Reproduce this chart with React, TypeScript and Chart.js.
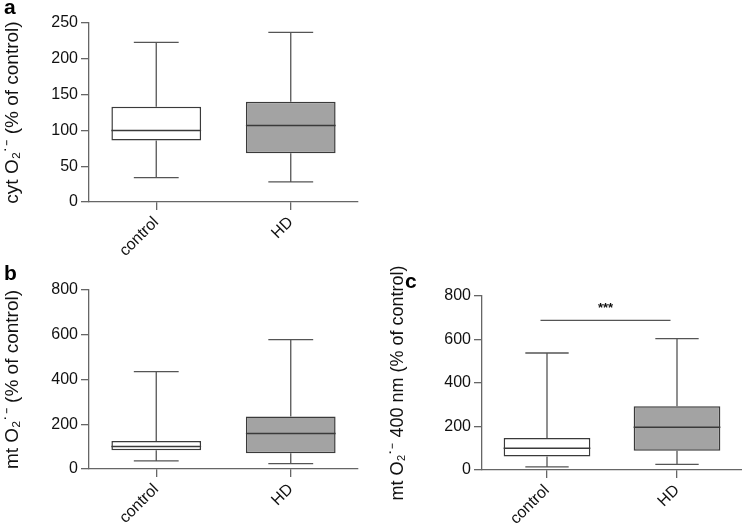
import React, { useEffect, useRef } from 'react';
import { Chart, registerables } from 'chart.js';

Chart.register(...registerables);

const FONT = "'Liberation Sans', Arial, Helvetica, sans-serif";

const categories = ['control', 'HD'];
const boxFills = ['#ffffff', '#a3a3a3'];

// Panel a: cyt O2.- (% of control)
const aMin = [34, 28];
const aQ1 = [86, 68];
const aMedian = [100, 107];
const aQ3 = [133, 140];
const aMax = [223, 237];
const aYMax = 250;
const aStep = 50;

// Panel b: mt O2.- (% of control)
const bMin = [36, 24];
const bQ1 = [84, 70];
const bMedian = [101, 159];
const bQ3 = [125, 235];
const bMax = [435, 578];
const bYMax = 800;
const bStep = 200;

// Panel c: mt O2.- 400 nm (% of control)
const cMin = [14, 26];
const cQ1 = [62, 88];
const cMedian = [100, 197];
const cQ3 = [147, 293];
const cMax = [538, 604];
const cYMax = 800;
const cStep = 200;
const cSigFrom = -0.05;
const cSigTo = 0.95;
const cSigValue = 688;
const cSigLabel = '***';

const AXIS = '#666666';
const BOX_EDGE = '#3a3a3a';
const WHISKER = '#555555';
const TEXT = '#111111';

type Stats = { min: number[]; q1: number[]; median: number[]; q3: number[]; max: number[] };
type Sig = { from: number; to: number; value: number; label: string } | null;

type PanelProps = {
  left: number;
  top: number;
  width: number;
  height: number;
  padding: { top: number; left: number; right: number; bottom: number };
  yWidth: number;
  xHeight: number;
  stats: Stats;
  yMax: number;
  step: number;
  title: string;
  titleSize: number;
  sig: Sig;
};

function makeBoxPlugin(stats: Stats, sig: Sig) {
  return {
    id: 'boxWhiskers',
    afterDatasetsDraw(chart: any) {
      const ctx = chart.ctx;
      const x = chart.scales.x;
      const y = chart.scales.y;
      const meta = chart.getDatasetMeta(0);
      ctx.save();
      categories.forEach((_, i) => {
        const cx = x.getPixelForValue(i);
        const bar = meta.data[i];
        const half = bar.width / 2;
        const cap = half / 2;
        const yMaxP = y.getPixelForValue(stats.max[i]);
        const yQ3 = y.getPixelForValue(stats.q3[i]);
        const yQ1 = y.getPixelForValue(stats.q1[i]);
        const yMinP = y.getPixelForValue(stats.min[i]);
        const yMed = y.getPixelForValue(stats.median[i]);
        ctx.strokeStyle = WHISKER;
        ctx.lineWidth = 1.3;
        ctx.beginPath();
        ctx.moveTo(cx, yQ3);
        ctx.lineTo(cx, yMaxP);
        ctx.moveTo(cx - cap, yMaxP);
        ctx.lineTo(cx + cap, yMaxP);
        ctx.moveTo(cx, yQ1);
        ctx.lineTo(cx, yMinP);
        ctx.moveTo(cx - cap, yMinP);
        ctx.lineTo(cx + cap, yMinP);
        ctx.stroke();
        ctx.strokeStyle = BOX_EDGE;
        ctx.lineWidth = 1.5;
        ctx.beginPath();
        ctx.moveTo(cx - half, yMed);
        ctx.lineTo(cx + half, yMed);
        ctx.stroke();
      });
      if (sig) {
        const x1 = x.getPixelForValue(sig.from);
        const x2 = x.getPixelForValue(sig.to);
        const ys = y.getPixelForValue(sig.value);
        ctx.strokeStyle = WHISKER;
        ctx.lineWidth = 1.3;
        ctx.beginPath();
        ctx.moveTo(x1, ys);
        ctx.lineTo(x2, ys);
        ctx.stroke();
        ctx.fillStyle = TEXT;
        ctx.font = `bold 13px ${FONT}`;
        ctx.textAlign = 'center';
        ctx.textBaseline = 'alphabetic';
        ctx.fillText(sig.label, (x1 + x2) / 2, ys - 8);
      }
      ctx.restore();
    },
  };
}

function Panel(p: PanelProps) {
  const ref = useRef<HTMLCanvasElement | null>(null);
  useEffect(() => {
    if (!ref.current) return;
    const chart = new Chart(ref.current, {
      type: 'bar',
      data: {
        labels: categories,
        datasets: [
          {
            data: categories.map((_, i) => [p.stats.q1[i], p.stats.q3[i]]) as any,
            backgroundColor: boxFills,
            borderColor: BOX_EDGE,
            borderWidth: 1.5,
            borderSkipped: false,
            barPercentage: 0.667,
            categoryPercentage: 1,
          },
        ],
      },
      options: {
        animation: false,
        responsive: false,
        maintainAspectRatio: false,
        devicePixelRatio: 1,
        layout: { padding: p.padding },
        plugins: { legend: { display: false }, tooltip: { enabled: false } },
        scales: {
          x: {
            grid: { offset: false, drawOnChartArea: false, drawTicks: true, tickLength: 8, color: AXIS, lineWidth: 1.3 },
            border: { display: true, color: AXIS, width: 1.3 },
            ticks: { minRotation: 45, maxRotation: 45, autoSkip: false, font: { family: FONT, size: 16 }, color: TEXT, padding: 3 },
            afterFit: (s: any) => {
              s.height = p.xHeight;
            },
          },
          y: {
            min: 0,
            max: p.yMax,
            ticks: { stepSize: p.step, font: { family: FONT, size: 16 }, color: TEXT, padding: 3 },
            grid: { drawOnChartArea: false, drawTicks: true, tickLength: 8, color: AXIS, lineWidth: 1.3 },
            border: { display: true, color: AXIS, width: 1.3 },
            title: { display: true, text: p.title, font: { family: FONT, size: p.titleSize }, color: TEXT, padding: { top: 1, bottom: 1 } },
            afterFit: (s: any) => {
              s.width = p.yWidth;
            },
          },
        },
      } as any,
      plugins: [makeBoxPlugin(p.stats, p.sig)],
    });
    return () => chart.destroy();
  }, []);
  return (
    <div style={{ position: 'absolute', left: p.left, top: p.top, width: p.width, height: p.height }}>
      <canvas ref={ref} width={p.width} height={p.height} style={{ width: p.width, height: p.height, display: 'block' }} />
    </div>
  );
}

const letterStyle = (left: number, top: number): React.CSSProperties => ({
  position: 'absolute',
  left,
  top,
  fontFamily: FONT,
  fontWeight: 'bold',
  fontSize: 21,
  lineHeight: '21px',
  color: '#000',
});

export default function App() {
  const sup = 'O\u2082\u02D9\u207B';
  return (
    <div style={{ position: 'absolute', left: 0, top: 0, width: 742, height: 524, background: '#fff', overflow: 'hidden' }}>
      <Panel
        left={0}
        top={0}
        width={370}
        height={262}
        padding={{ top: 23, left: 0, right: 12, bottom: 0 }}
        yWidth={89}
        xHeight={60}
        stats={{ min: aMin, q1: aQ1, median: aMedian, q3: aQ3, max: aMax }}
        yMax={aYMax}
        step={aStep}
        title={`cyt ${sup} (% of control)`}
        titleSize={19}
        sig={null}
      />
      <Panel
        left={0}
        top={262}
        width={370}
        height={262}
        padding={{ top: 28, left: 0, right: 12, bottom: 0 }}
        yWidth={89}
        xHeight={55}
        stats={{ min: bMin, q1: bQ1, median: bMedian, q3: bQ3, max: bMax }}
        yMax={bYMax}
        step={bStep}
        title={`mt ${sup} (% of control)`}
        titleSize={19}
        sig={null}
      />
      <Panel
        left={370}
        top={262}
        width={372}
        height={262}
        padding={{ top: 34, left: 16, right: 0, bottom: 0 }}
        yWidth={96}
        xHeight={54}
        stats={{ min: cMin, q1: cQ1, median: cMedian, q3: cQ3, max: cMax }}
        yMax={cYMax}
        step={cStep}
        title={`mt ${sup} 400 nm (% of control)`}
        titleSize={18}
        sig={{ from: cSigFrom, to: cSigTo, value: cSigValue, label: cSigLabel }}
      />
      <div style={letterStyle(4, -4)}>a</div>
      <div style={letterStyle(4, 262)}>b</div>
      <div style={letterStyle(405, 270)}>c</div>
    </div>
  );
}
